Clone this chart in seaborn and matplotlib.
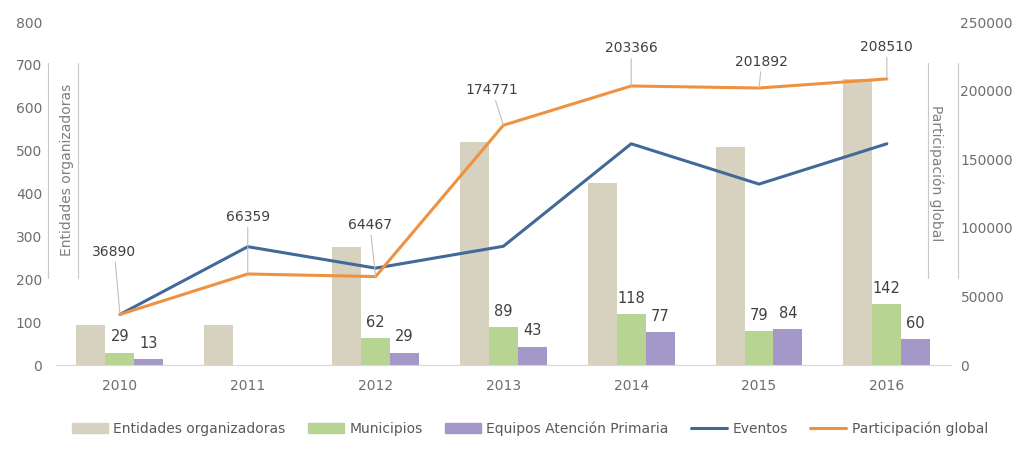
import matplotlib
matplotlib.use("Agg")
import matplotlib.pyplot as plt
from matplotlib.patches import Patch
from matplotlib.lines import Line2D
import numpy as np
import pandas as pd
import seaborn as sns

# datos
years = ["2010", "2011", "2012", "2013", "2014", "2015", "2016"]
entidades = [94, 94, 275, 520, 424, 508, 668]
municipios = [29, np.nan, 62, 89, 118, 79, 142]
equipos = [13, np.nan, 29, 43, 77, 84, 60]
eventos = [118, 276, 226, 277, 516, 422, 516]
participacion = [36890, 66359, 64467, 174771, 203366, 201892, 208510]

bar_names = ["Entidades organizadoras", "Municipios", "Equipos Atención Primaria"]
bar_colors = ["#D7D2BF", "#B8D492", "#A498C8"]
c_eventos = "#43699A"
c_part = "#EE9141"
grey = "#6E6E6E"

df = pd.DataFrame({"year": years * 3,
                   "serie": np.repeat(bar_names, len(years)),
                   "valor": entidades + municipios + equipos})
df["valor"] = df["valor"].fillna(0)  # 2011 sin dato
df_line = pd.DataFrame({"pos": np.arange(len(years)),
                        "eventos": eventos,
                        "participacion": participacion})

sns.set_style("white")
plt.rcParams["font.family"] = ["DejaVu Sans"]

fig = plt.figure(figsize=(10.19, 4.49), dpi=100)
ax = fig.add_axes([0.055, 0.187, 0.878, 0.764])

sns.barplot(data=df, x="year", y="valor", hue="serie", hue_order=bar_names,
            palette=bar_colors, width=0.68, ax=ax, legend=False, errorbar=None,
            linewidth=0, saturation=1)

# etiquetas de Municipios y Equipos
for i, cont in enumerate(ax.containers):
    if i == 0:
        continue
    vals = municipios if i == 1 else equipos
    labels = ["" if np.isnan(v) else f"{int(v)}" for v in vals]
    ax.bar_label(cont, labels=labels, padding=6, fontsize=10.5, color="#404040")

sns.lineplot(data=df_line, x="pos", y="eventos", color=c_eventos, lw=2.2, ax=ax)

ax2 = ax.twinx()
sns.lineplot(data=df_line, x="pos", y="participacion", color=c_part, lw=2.2, ax=ax2)

offsets = [(-4, 40), (0, 36), (-4, 32), (-8, 20), (0, 22), (2, 14), (0, 18)]
for x, v, off in zip(df_line["pos"], participacion, offsets):
    ax2.annotate(f"{v}", xy=(x, v), xytext=off, textcoords="offset points",
                 ha="center", va="bottom", fontsize=10, color="#404040",
                 arrowprops=dict(arrowstyle="-", color="#BFBFBF", lw=0.8,
                                 shrinkA=0, shrinkB=0))

ax.set_ylim(0, 800)
ax.set_yticks(range(0, 801, 100))
ax2.set_ylim(0, 250000)
ax2.set_yticks(range(0, 250001, 50000))
ax.set_xlim(-0.5, len(years) - 0.5)

for a in (ax, ax2):
    for s in a.spines.values():
        s.set_visible(False)
    a.tick_params(length=0, labelsize=10, labelcolor=grey)
    a.set_xlabel("")
    a.set_ylabel("")
ax.spines["bottom"].set_visible(True)
ax.spines["bottom"].set_color("#D9D9D9")
ax.tick_params(axis="x", pad=10)
ax.tick_params(axis="y", pad=10)
ax2.tick_params(axis="y", pad=7)

# titulos de eje dentro del area
ax.text(0.012, 0.57, "Entidades organizadoras", transform=ax.transAxes,
        rotation=90, ha="center", va="center", fontsize=10, color="#7F7F7F")
ax2.text(0.984, 0.56, "Participación global", transform=ax.transAxes,
         rotation=270, ha="center", va="center", fontsize=10, color="#7F7F7F")
for xf in (0.047, 0.077, 0.911, 0.940):
    fig.add_artist(Line2D([xf, xf], [0.38, 0.86], color="#C8C8C8", lw=0.8))

handles = [Patch(color=c) for c in bar_colors] + \
          [Line2D([], [], color=c_eventos, lw=2.2), Line2D([], [], color=c_part, lw=2.2)]
fig.legend(handles, bar_names + ["Eventos", "Participación global"],
           loc="center", bbox_to_anchor=(0.52, 0.045), ncol=5, frameon=False,
           fontsize=10, labelcolor="#595959", handlelength=2.6,
           handletextpad=0.4, columnspacing=1.6)

fig.savefig("out.png", dpi=100)
